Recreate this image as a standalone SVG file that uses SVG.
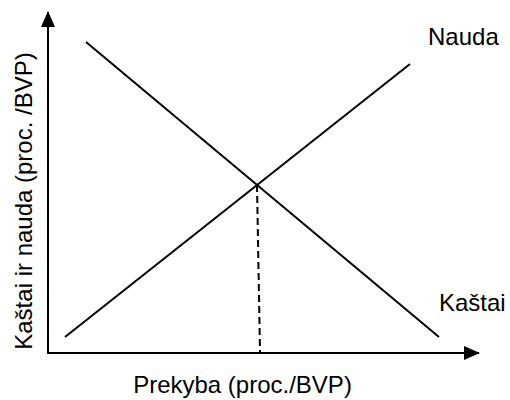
<svg xmlns="http://www.w3.org/2000/svg" width="510" height="400" viewBox="0 0 510 400">
<style>
.ln{stroke:#000;stroke-width:2;fill:none}
.dash{stroke:#000;stroke-width:2;fill:none;stroke-dasharray:7,4}
.t{font-family:"Liberation Sans",Arial,sans-serif;font-size:24px;fill:#000}
</style>
<defs>
<marker id="ah" viewBox="0 0 16 14" refX="15" refY="7" markerWidth="16" markerHeight="14" markerUnits="userSpaceOnUse" orient="auto">
<path d="M0,0 L16,7 L0,14 Z" fill="#000"/>
</marker>
</defs>
<rect width="510" height="400" fill="#fff"/>
<g id="connectors">
<line class="ln" x1="48" y1="353" x2="48" y2="12" marker-end="url(#ah)"/>
<line class="ln" x1="47" y1="353" x2="479" y2="353" marker-end="url(#ah)"/>
<line class="ln" x1="86" y1="42" x2="439" y2="337"/>
<line class="ln" x1="65" y1="337" x2="410" y2="64"/>
<line class="dash" x1="257" y1="185" x2="260" y2="352"/>
</g>
<g id="label-nauda"><text class="t" x="428" y="45">Nauda</text></g>
<g id="label-kastai"><text class="t" x="439" y="311">Kaštai</text></g>
<g id="label-x"><text class="t" x="242.5" y="393" text-anchor="middle">Prekyba (proc./BVP)</text></g>
<g id="label-y"><text class="t" transform="translate(32,201) rotate(-90)" text-anchor="middle">Kaštai ir nauda (proc. /BVP)</text></g>
</svg>
